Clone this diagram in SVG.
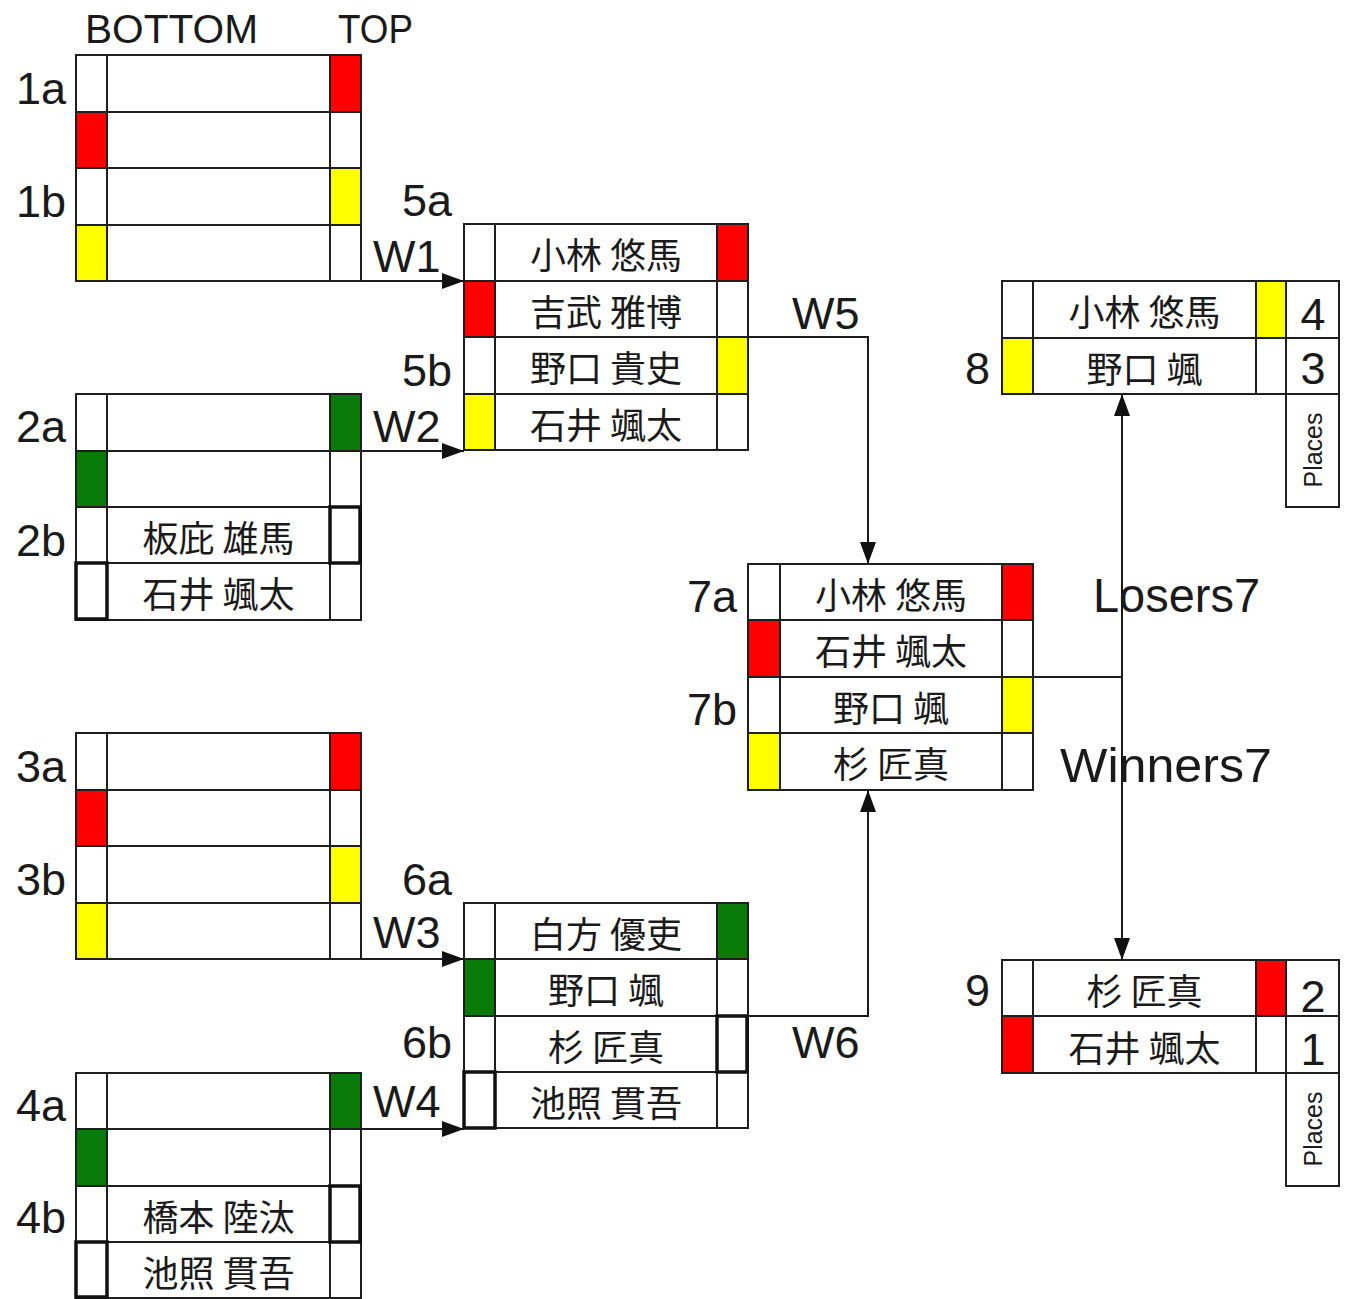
<svg xmlns="http://www.w3.org/2000/svg" width="1352" height="1299" viewBox="0 0 1352 1299">
<style>
.bg{fill:#fff}
.fr{fill:none;stroke:#1e1e1e;stroke-width:2}
.th{fill:none;stroke:#111;stroke-width:3.5}
.r{fill:#ff0000}
.y{fill:#ffff00}
.g{fill:#087a08}
.lb{font-family:"Liberation Sans",Arial,sans-serif;font-size:45px;fill:#1a1a1a}
.e{text-anchor:end}
.m{text-anchor:middle}
.nm{font-family:"Noto Sans CJK JP","Noto Sans CJK SC",sans-serif;font-size:36px;fill:#1a1a1a;text-anchor:middle}
.cn{fill:none;stroke:#1a1a1a;stroke-width:2}
</style>
<defs>
<marker id="ah" refX="22" refY="8" markerWidth="22" markerHeight="16" markerUnits="userSpaceOnUse" orient="auto-start-reverse" overflow="visible">
<path d="M0,0L22,8L0,16z" fill="#111"/>
</marker>
</defs>
<rect class="bg" x="0" y="0" width="1352" height="1299"/>

<g id="headers">
<text class="lb" x="85" y="43" textLength="173" lengthAdjust="spacingAndGlyphs" style="font-size:40px">BOTTOM</text>
<text class="lb" x="338" y="43" textLength="75" lengthAdjust="spacingAndGlyphs" style="font-size:40px">TOP</text>
</g>

<g id="node-1">
<rect class="r" x="330" y="55" width="31" height="57"/>
<rect class="r" x="76" y="112" width="31" height="56"/>
<rect class="y" x="330" y="168" width="31" height="57"/>
<rect class="y" x="76" y="225" width="31" height="56"/>
<rect class="fr" x="76" y="55" width="285" height="226"/>
<path class="fr" d="M107,55V281M330,55V281M76,112H361M76,168H361M76,225H361"/>
<text class="lb e" x="66" y="104">1a</text>
<text class="lb e" x="66" y="217">1b</text>
</g>

<g id="node-2">
<rect class="g" x="330" y="394" width="31" height="57"/>
<rect class="g" x="76" y="451" width="31" height="56"/>
<rect class="fr" x="76" y="394" width="285" height="226"/>
<path class="fr" d="M107,394V620M330,394V620M76,451H361M76,507H361M76,563H361"/>
<rect class="th" x="330" y="507" width="30" height="56"/>
<rect class="th" x="76" y="563" width="31" height="56"/>
<text class="nm" x="218.5" y="552">板庇 雄馬</text>
<text class="nm" x="218.5" y="608">石井 颯太</text>
<text class="lb e" x="66" y="442">2a</text>
<text class="lb e" x="66" y="556">2b</text>
</g>

<g id="node-3">
<rect class="r" x="330" y="733" width="31" height="57"/>
<rect class="r" x="76" y="790" width="31" height="56"/>
<rect class="y" x="330" y="846" width="31" height="57"/>
<rect class="y" x="76" y="903" width="31" height="56"/>
<rect class="fr" x="76" y="733" width="285" height="226"/>
<path class="fr" d="M107,733V959M330,733V959M76,790H361M76,846H361M76,903H361"/>
<text class="lb e" x="66" y="782">3a</text>
<text class="lb e" x="66" y="895">3b</text>
</g>

<g id="node-4">
<rect class="g" x="330" y="1073" width="31" height="56"/>
<rect class="g" x="76" y="1129" width="31" height="57"/>
<rect class="fr" x="76" y="1073" width="285" height="225"/>
<path class="fr" d="M107,1073V1298M330,1073V1298M76,1129H361M76,1186H361M76,1242H361"/>
<rect class="th" x="330" y="1186" width="30" height="56"/>
<rect class="th" x="76" y="1242" width="31" height="55"/>
<text class="nm" x="218.5" y="1231">橋本 陸汰</text>
<text class="nm" x="218.5" y="1287">池照 貫吾</text>
<text class="lb e" x="66" y="1121">4a</text>
<text class="lb e" x="66" y="1233">4b</text>
</g>

<g id="node-5">
<rect class="r" x="717" y="224" width="31" height="57"/>
<rect class="r" x="464" y="281" width="31" height="56"/>
<rect class="y" x="717" y="337" width="31" height="57"/>
<rect class="y" x="464" y="394" width="31" height="56"/>
<rect class="fr" x="464" y="224" width="284" height="226"/>
<path class="fr" d="M495,224V450M717,224V450M464,281H748M464,337H748M464,394H748"/>
<text class="nm" x="606" y="269">小林 悠馬</text>
<text class="nm" x="606" y="326">吉武 雅博</text>
<text class="nm" x="606" y="382">野口 貴史</text>
<text class="nm" x="606" y="439">石井 颯太</text>
<text class="lb e" x="452" y="216">5a</text>
<text class="lb e" x="452" y="386">5b</text>
</g>

<g id="node-6">
<rect class="g" x="717" y="903" width="31" height="56"/>
<rect class="g" x="464" y="959" width="31" height="57"/>
<rect class="fr" x="464" y="903" width="284" height="225"/>
<path class="fr" d="M495,903V1128M717,903V1128M464,959H748M464,1016H748M464,1072H748"/>
<rect class="th" x="717" y="1016" width="30" height="56"/>
<rect class="th" x="464" y="1072" width="31" height="56"/>
<text class="nm" x="606" y="948">白方 優吏</text>
<text class="nm" x="606" y="1004">野口 颯</text>
<text class="nm" x="606" y="1061">杉 匠真</text>
<text class="nm" x="606" y="1117">池照 貫吾</text>
<text class="lb e" x="452" y="895">6a</text>
<text class="lb e" x="452" y="1058">6b</text>
</g>

<g id="node-7">
<rect class="r" x="1002" y="564" width="31" height="56"/>
<rect class="r" x="748" y="620" width="32" height="57"/>
<rect class="y" x="1002" y="677" width="31" height="56"/>
<rect class="y" x="748" y="733" width="32" height="57"/>
<rect class="fr" x="748" y="564" width="285" height="226"/>
<path class="fr" d="M780,564V790M1002,564V790M748,620H1033M748,677H1033M748,733H1033"/>
<text class="nm" x="891" y="609">小林 悠馬</text>
<text class="nm" x="891" y="665">石井 颯太</text>
<text class="nm" x="891" y="722">野口 颯</text>
<text class="nm" x="891" y="778">杉 匠真</text>
<text class="lb e" x="737" y="612">7a</text>
<text class="lb e" x="737" y="725">7b</text>
</g>

<g id="node-8">
<rect class="y" x="1256" y="281" width="30" height="57"/>
<rect class="y" x="1002" y="338" width="31" height="56"/>
<rect class="fr" x="1002" y="281" width="337" height="113"/>
<path class="fr" d="M1033,281V394M1256,281V394M1286,281V507H1339V394M1002,338H1339"/>
<text class="nm" x="1144.5" y="326">小林 悠馬</text>
<text class="nm" x="1144.5" y="383">野口 颯</text>
<text class="lb m" x="1313" y="330">4</text>
<text class="lb m" x="1313" y="384">3</text>
<text class="lb m" transform="translate(1322,450) rotate(-90)" style="font-size:25px">Places</text>
<text class="lb e" x="990" y="384">8</text>
</g>

<g id="node-9">
<rect class="r" x="1256" y="960" width="30" height="56"/>
<rect class="r" x="1002" y="1016" width="31" height="57"/>
<rect class="fr" x="1002" y="960" width="337" height="113"/>
<path class="fr" d="M1033,960V1073M1256,960V1073M1286,960V1186H1339V1073M1002,1016H1339"/>
<text class="nm" x="1144.5" y="1005">杉 匠真</text>
<text class="nm" x="1144.5" y="1062">石井 颯太</text>
<text class="lb m" x="1313" y="1012">2</text>
<text class="lb m" x="1313" y="1065">1</text>
<text class="lb m" transform="translate(1322,1129) rotate(-90)" style="font-size:25px">Places</text>
<text class="lb e" x="990" y="1006">9</text>
</g>

<g id="connectors">
<path class="cn" d="M361,281H464" marker-end="url(#ah)"/>
<path class="cn" d="M361,451H464" marker-end="url(#ah)"/>
<path class="cn" d="M361,959H464" marker-end="url(#ah)"/>
<path class="cn" d="M361,1129H464" marker-end="url(#ah)"/>
<path class="cn" d="M748,337H868V564" marker-end="url(#ah)"/>
<path class="cn" d="M748,1016H868V790" marker-end="url(#ah)"/>
<path class="cn" d="M1033,677H1122"/>
<path class="cn" d="M1122,394V960" marker-start="url(#ah)" marker-end="url(#ah)"/>
<text class="lb" x="373" y="272">W1</text>
<text class="lb" x="373" y="442">W2</text>
<text class="lb" x="373" y="948">W3</text>
<text class="lb" x="373" y="1117">W4</text>
<text class="lb" x="792" y="329">W5</text>
<text class="lb" x="792" y="1058">W6</text>
<text class="lb" x="1093" y="612" textLength="167" lengthAdjust="spacingAndGlyphs" style="font-size:48px">Losers7</text>
<text class="lb" x="1060" y="782" textLength="212" lengthAdjust="spacingAndGlyphs" style="font-size:48px">Winners7</text>
</g>
</svg>
